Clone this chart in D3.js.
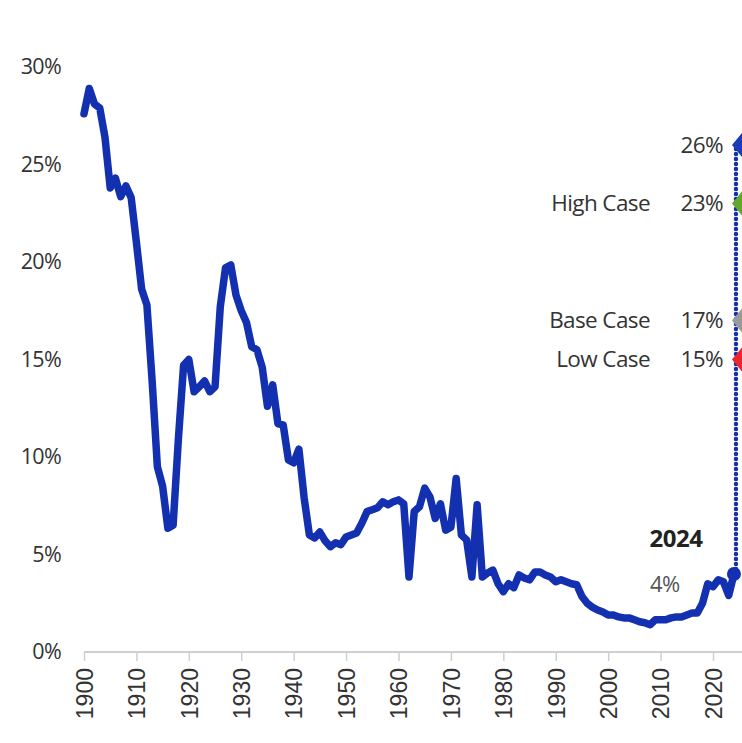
<!DOCTYPE html>
<html>
<head>
<meta charset="utf-8">
<script src="https://cdn.jsdelivr.net/npm/d3@7"></script>
<style>
  html, body { margin: 0; padding: 0; background: #fff; }
  svg { display: block; }
  text { font-family: "Open Sans", "Noto Sans", sans-serif; fill: #333; }
</style>
</head>
<body>
<svg id="chart" width="742" height="743"></svg>
<script>
// Annual series, 1900 onward (percent)
const firstYear = 1900;
const seriesValues = [
  27.6, 28.9, 28.1, 27.9, 26.4, 23.8, 24.3, 23.35, 23.9, 23.3,   // 1900s
  21.0, 18.6, 17.8, 13.9, 9.5, 8.5, 6.35, 6.5, 10.9, 14.7,       // 1910s
  15.0, 13.35, 13.6, 13.9, 13.35, 13.6, 17.7, 19.7, 19.85, 18.3, // 1920s
  17.5, 16.9, 15.65, 15.5, 14.6, 12.6, 13.7, 11.7, 11.65, 9.85,  // 1930s
  9.7, 10.4, 7.9, 6.0, 5.85, 6.15, 5.7, 5.4, 5.6, 5.5,           // 1940s
  5.9, 6.0, 6.1, 6.6, 7.2, 7.3, 7.4, 7.7, 7.55, 7.7,             // 1950s
  7.8, 7.6, 3.85, 7.2, 7.45, 8.4, 7.95, 6.85, 7.6, 6.25,         // 1960s
  6.4, 8.9, 6.0, 5.75, 3.85, 7.55, 3.85, 4.05, 4.2, 3.5,         // 1970s
  3.1, 3.5, 3.3, 3.95, 3.8, 3.7, 4.1, 4.1, 3.95, 3.85,           // 1980s
  3.6, 3.7, 3.6, 3.5, 3.45, 2.85, 2.5, 2.3, 2.15, 2.05,          // 1990s
  1.9, 1.9, 1.8, 1.75, 1.75, 1.65, 1.55, 1.5, 1.4, 1.65,         // 2000s
  1.65, 1.65, 1.75, 1.8, 1.8, 1.9, 2.0, 2.0, 2.5, 3.5,           // 2010s
  3.35, 3.7, 3.6, 2.9, 4                                          // 2020s
];
const years = seriesValues.map((_, i) => firstYear + i);

// Latest observation
const latestYear = 2024;
const latestValue = 4;

// Scenario projections
const scenarioNames  = ["", "High Case", "Base Case", "Low Case"];
const scenarioValues = [26, 23, 17, 15];
const scenarioColors = ["#1a3cb8", "#62a82c", "#9a9a9a", "#e8262b"];

// Axis ticks
const yTicks = [0, 5, 10, 15, 20, 25, 30];
const xTicks = [1900, 1910, 1920, 1930, 1940, 1950, 1960, 1970, 1980, 1990, 2000, 2010, 2020];

const lineColor = "#1330b0";

const svg = d3.select("#chart");

const x = d3.scaleLinear().domain([1900, 2020]).range([84, 713]);
const y = d3.scaleLinear().domain([0, 30]).range([652, 67]);

// X axis: baseline, ticks and rotated year labels
const xAxis = svg.append("g").attr("transform", `translate(0,${y(0)})`)
  .call(d3.axisBottom(x).tickValues(xTicks).tickSize(9).tickSizeOuter(0).tickFormat(d3.format("d")));
xAxis.select(".domain").remove();
xAxis.insert("line", ":first-child")
  .attr("x1", x(1900)).attr("x2", 742).attr("y1", 0).attr("y2", 0)
  .attr("stroke", "#cfcfcf").attr("stroke-width", 2);
xAxis.selectAll(".tick line").attr("stroke", "#cfcfcf").attr("stroke-width", 1.5);
xAxis.selectAll(".tick text")
  .attr("transform", "rotate(-90)")
  .attr("x", -16).attr("y", 0).attr("dy", "0.36em")
  .attr("text-anchor", "end")
  .style("font-family", "'Liberation Sans', Arial, sans-serif")
  .style("font-size", "23px")
  .style("fill", "#333");

// Y axis: labels only
const yAxis = svg.append("g").attr("transform", "translate(61,0)")
  .call(d3.axisLeft(y).tickValues(yTicks).tickSize(0).tickPadding(0).tickFormat(d => d + "%"));
yAxis.select(".domain").remove();
yAxis.selectAll(".tick text")
  .style("font-family", "'Open Sans', sans-serif")
  .style("font-size", "21.5px")
  .style("letter-spacing", "-0.7px")
  .style("fill", "#333");

// Historical line
const series = years.map((yr, i) => ({ year: yr, value: seriesValues[i] }));
svg.append("path")
  .datum(series)
  .attr("fill", "none")
  .attr("stroke", lineColor)
  .attr("stroke-width", 7.5)
  .attr("stroke-linejoin", "round")
  .attr("stroke-linecap", "round")
  .attr("d", d3.line().x(d => x(d.year)).y(d => y(d.value)));

// Dotted projection from latest point up to the top scenario
svg.append("line")
  .attr("x1", x(latestYear) + 2).attr("x2", x(latestYear) + 2)
  .attr("y1", y(latestValue)).attr("y2", y(d3.max(scenarioValues)))
  .attr("stroke", lineColor)
  .attr("stroke-width", 4.5)
  .attr("stroke-linecap", "round")
  .attr("stroke-dasharray", "0 5");

// Latest point marker and label
svg.append("circle")
  .attr("cx", x(latestYear)).attr("cy", y(latestValue)).attr("r", 7)
  .attr("fill", lineColor);

svg.append("text")
  .attr("x", x(latestYear) - 58).attr("y", y(latestValue) - 27)
  .attr("text-anchor", "middle")
  .style("font-size", "24px").style("font-weight", "700").style("fill", "#222")
  .style("letter-spacing", "-0.5px")
  .text(latestYear);
svg.append("text")
  .attr("x", x(latestYear) - 84).attr("y", y(latestValue) + 10).attr("dy", "0.35em")
  .style("font-size", "22px").style("fill", "#555")
  .style("letter-spacing", "-0.5px")
  .text(latestValue + "%");

// Scenario diamonds and labels
const scen = scenarioValues.map((v, i) => ({ name: scenarioNames[i], value: v, color: scenarioColors[i] }));
const diamondPath = "M-10,0L0,-12L10,0L0,12Z";

svg.selectAll(".scen-mark")
  .data(scen)
  .join("path")
  .attr("class", "scen-mark")
  .attr("d", diamondPath)
  .attr("transform", d => `translate(${x(latestYear) + 8},${y(d.value)})`)
  .attr("fill", d => d.color);

svg.selectAll(".scen-pct")
  .data(scen)
  .join("text")
  .attr("class", "scen-pct")
  .attr("x", 723).attr("y", d => y(d.value)).attr("dy", "0.35em")
  .attr("text-anchor", "end")
  .style("font-size", "22.5px").style("letter-spacing", "-0.6px")
  .text(d => d.value + "%");

svg.selectAll(".scen-name")
  .data(scen.filter(d => d.name))
  .join("text")
  .attr("class", "scen-name")
  .attr("x", 650).attr("y", d => y(d.value)).attr("dy", "0.35em")
  .attr("text-anchor", "end")
  .style("font-size", "22.5px").style("letter-spacing", "-0.6px")
  .text(d => d.name);
</script>
</body>
</html>
